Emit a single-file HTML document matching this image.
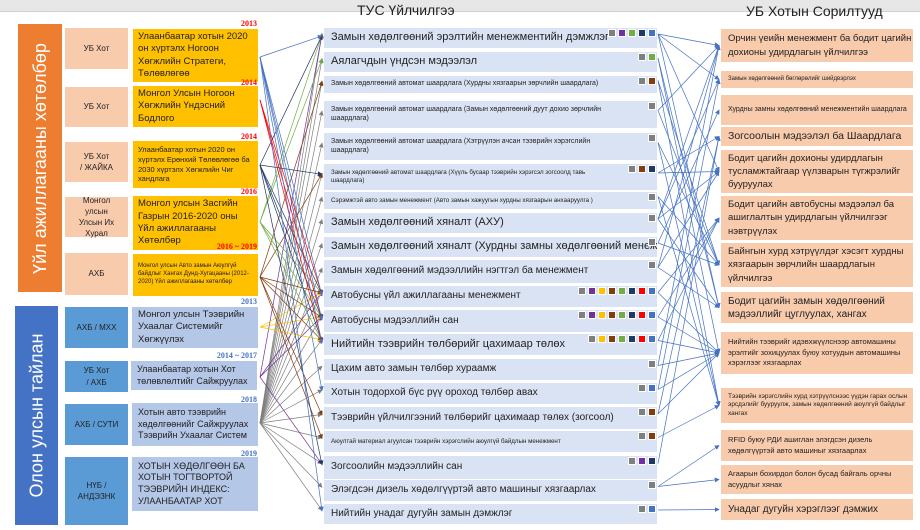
<!DOCTYPE html>
<html><head><meta charset="utf-8"><style>
*{margin:0;padding:0;box-sizing:border-box}
body{width:920px;height:530px;background:#fff;position:relative;overflow:hidden;font-family:"Liberation Sans","DejaVu Sans",sans-serif;color:#222}
.a{position:absolute}
.bar{position:absolute;top:0;left:0;width:920px;height:12px;background:#e7e7e7;border-bottom:1px solid #d0d0d0}
.vt{position:absolute;color:#fff;display:flex;align-items:center;justify-content:center}
.vt span{transform:rotate(-90deg);white-space:nowrap;font-size:18px}
.pc{position:absolute;background:#f8cbad;display:flex;align-items:center;justify-content:center;text-align:center;font-size:8px;line-height:1.4}
.bc{position:absolute;background:#5b9bd5;display:flex;align-items:center;justify-content:center;text-align:center;font-size:8px;line-height:1.4}
.yb{position:absolute;background:#ffc000;padding:2px 5px;display:flex;align-items:center;font-size:9.5px;line-height:1.3}
.lb{position:absolute;background:#b4c7e7;padding:2px 6px;display:flex;align-items:center;font-size:9.5px;line-height:1.3}
.yr{position:absolute;font:bold 8px "Liberation Serif",serif;color:#f00;text-align:right}
.br{position:absolute;font:bold 8px "Liberation Serif",serif;color:#4472c4;text-align:right}
.m{position:absolute;left:324px;width:333px;background:#dae3f3;display:flex;align-items:center;padding-left:7px;font-size:11px;line-height:1.25;white-space:nowrap;overflow:hidden}
.m.s{font-size:7px;white-space:normal}
.m.xs{font-size:6.2px;white-space:normal}
.r{position:absolute;left:721px;width:192px;background:#f8cbad;display:flex;align-items:center;padding-left:7px;font-size:9.5px;line-height:1.4}
.sq{position:absolute;width:8px;height:8px;border:0.5px solid #fff}
svg{position:absolute;left:0;top:0}
</style></head><body>
<div class="bar"></div>
<div class="a" style="left:357px;top:2px;font-size:14px">ТУС Үйлчилгээ</div>
<div class="a" style="left:746px;top:3px;font-size:14px">УБ Хотын Сорилтууд</div>

<div class="vt" style="left:18px;top:24px;width:44px;height:268px;background:#ed7d31"><span>Үйл ажиллагааны хөтөлбөр</span></div>
<div class="vt" style="left:15px;top:306px;width:43px;height:219px;background:#4472c4"><span>Олон улсын тайлан</span></div>

<div class="pc" style="left:65px;top:28px;width:63px;height:41px">УБ Хот</div>
<div class="pc" style="left:65px;top:87px;width:63px;height:40px">УБ Хот</div>
<div class="pc" style="left:65px;top:142px;width:63px;height:40px">УБ Хот<br>/ ЖАЙКА</div>
<div class="pc" style="left:65px;top:197px;width:63px;height:40px">Монгол<br>улсын<br>Улсын Их<br>Хурал</div>
<div class="pc" style="left:65px;top:253px;width:63px;height:42px">АХБ</div>

<div class="yb" style="left:133px;top:29px;width:125px;height:53px">Улаанбаатар хотын 2020 он хүртэлх Ногоон Хөгжлийн Стратеги, Төлөвлөгөө</div>
<div class="yb" style="left:133px;top:86px;width:125px;height:41px">Монгол Улсын Ногоон Хөгжлийн Үндэсний Бодлого</div>
<div class="yb" style="left:133px;top:141px;width:125px;height:47px;font-size:7.5px">Улаанбаатар хотын 2020 он хүртэлх Ерөнхий Төлөвлөгөө ба 2030 хүртэлх Хөгжлийн Чиг хандлага</div>
<div class="yb" style="left:133px;top:196px;width:125px;height:54px">Монгол улсын Засгийн Газрын 2016-2020 оны Үйл ажиллагааны Хөтөлбөр</div>
<div class="yb" style="left:133px;top:254px;width:125px;height:42px;font-size:6px">Монгол улсын Авто замын Аюулгүй байдлыг Хангах Дунд-Хугацааны (2012- 2020) Үйл ажиллагааны хөтөлбөр</div>
<div class="yr" style="left:200px;top:19px;width:57px">2013</div>
<div class="yr" style="left:200px;top:78px;width:57px">2014</div>
<div class="yr" style="left:200px;top:132px;width:57px">2014</div>
<div class="yr" style="left:200px;top:187px;width:57px">2016</div>
<div class="yr" style="left:180px;top:242px;width:77px">2016 ~ 2019</div>

<div class="bc" style="left:65px;top:307px;width:63px;height:41px">АХБ / МХХ</div>
<div class="bc" style="left:65px;top:361px;width:63px;height:31px">УБ Хот<br>/ АХБ</div>
<div class="bc" style="left:65px;top:404px;width:63px;height:41px">АХБ / СУТИ</div>
<div class="bc" style="left:65px;top:457px;width:63px;height:68px">НҮБ /<br>АНДЭЗНК</div>
<div class="lb" style="left:132px;top:307px;width:126px;height:41px">Монгол улсын Тээврийн Ухаалаг Системийг Хөгжүүлэх</div>
<div class="lb" style="left:131px;top:361px;width:126px;height:29px;font-size:9px">Улаанбаатар хотын Хот төлөвлөлтийг Сайжруулах</div>
<div class="lb" style="left:132px;top:403px;width:126px;height:43px;font-size:9px">Хотын авто тээврийн хөдөлгөөнийг Сайжруулах Тээврийн Ухаалаг Систем</div>
<div class="lb" style="left:132px;top:457px;width:126px;height:54px;font-size:9px">ХОТЫН ХӨДӨЛГӨӨН БА ХОТЫН ТОГТВОРТОЙ ТЭЭВРИЙН ИНДЕКС: УЛААНБААТАР ХОТ</div>
<div class="br" style="left:200px;top:297px;width:57px">2013</div>
<div class="br" style="left:180px;top:351px;width:77px">2014 ~ 2017</div>
<div class="br" style="left:200px;top:395px;width:57px">2018</div>
<div class="br" style="left:200px;top:449px;width:57px">2019</div>

<div class="m" style="top:28px;height:20px">Замын хөдөлгөөний эрэлтийн менежментийн дэмжлэг</div>
<div class="m" style="top:52px;height:20px">Аялагчдын үндсэн мэдээлэл</div>
<div class="m s" style="top:76px;height:17px">Замын хөдөлгөөний автомат шаардлага (Хурдны хязгаарын зөрчлийн шаардлага)</div>
<div class="m s" style="top:101px;height:27px">Замын хөдөлгөөний автомат шаардлага (Замын хөдөлгөөний дуут дохио зөрчлийн<br>шаардлага)</div>
<div class="m s" style="top:133px;height:27px">Замын хөдөлгөөний автомат шаардлага (Хэтрүүлэн ачсан тээврийн хэрэгслийн<br>шаардлага)</div>
<div class="m xs" style="top:164px;height:26px">Замын хөдөлгөөний автомат шаардлага (Хүүль бусаар тээврийн хэрэгсэл зогсоолд тавь<br>шаардлага)</div>
<div class="m xs" style="top:192px;height:17px">Сэрэмжтэй авто замын менежмент (Авто замын хажуугын хурдны хязгаарын анхааруулга )</div>
<div class="m" style="top:213px;height:20px">Замын хөдөлгөөний хяналт (АХУ)</div>
<div class="m" style="top:237px;height:20px">Замын хөдөлгөөний хяналт (Хурдны замны хөдөлгөөний менежмент)</div>
<div class="m" style="top:260px;height:23px;font-size:10px">Замын хөдөлгөөний мэдээллийн нэгтгэл ба менежмент</div>
<div class="m" style="top:286px;height:21px;font-size:10px">Автобусны үйл ажиллагааны менежмент</div>
<div class="m" style="top:310px;height:22px;font-size:10px">Автобусны мэдээллийн сан</div>
<div class="m" style="top:334px;height:21px">Нийтийн тээврийн төлбөрийг цахимаар төлөх</div>
<div class="m" style="top:359px;height:21px;font-size:10px">Цахим авто замын төлбөр хураамж</div>
<div class="m" style="top:383px;height:21px;font-size:10px">Хотын тодорхой бүс рүү ороход төлбөр авах</div>
<div class="m" style="top:407px;height:22px;font-size:10px">Тээврийн үйлчилгээний төлбөрийг цахимаар төлөх (зогсоол)</div>
<div class="m xs" style="top:431px;height:21px">Аюултай материал агуулсан тээврийн хэрэгслийн аюулгүй байдлын менежмент</div>
<div class="m" style="top:456px;height:23px;font-size:10px">Зогсоолийн мэдээллийн сан</div>
<div class="m" style="top:480px;height:21px;font-size:10px">Элэгдсэн дизель хөдөлгүүртэй авто машиныг хязгаарлах</div>
<div class="m" style="top:504px;height:20px;font-size:10px">Нийтийн унадаг дугуйн замын дэмжлэг</div>

<div class="r" style="top:29px;height:33px">Орчин үеийн менежмент ба бодит цагийн дохионы удирдлагын үйлчилгээ</div>
<div class="r" style="top:71px;height:17px;font-size:6px">Замын хөдөлгөөний бөглөрөлийг шийдвэрлэх</div>
<div class="r" style="top:95px;height:30px;font-size:7px;line-height:1.3">Хурдны замны хөдөлгөөний менежментийн шаардлага</div>
<div class="r" style="top:127px;height:19px;font-size:10.5px">Зогсоолын мэдээлэл ба Шаардлага</div>
<div class="r" style="top:150px;height:43px">Бодит цагийн дохионы удирдлагын тусламжтайгаар үүлзварын түгжрэлийг бууруулах</div>
<div class="r" style="top:196px;height:44px">Бодит цагийн автобусны мэдээлэл ба ашиглалтын удирдлагын үйлчилгээг нэвтрүүлэх</div>
<div class="r" style="top:243px;height:44px">Байнгын хурд хэтрүүлдэг хэсэгт хурдны хязгаарын зөрчлийн шаардлагын үйлчилгээ</div>
<div class="r" style="top:292px;height:31px;font-size:10px;line-height:1.3">Бодит цагийн замын хөдөлгөөний мэдээллийг цуглуулах, хангах</div>
<div class="r" style="top:332px;height:42px;font-size:7.5px">Нийтийн тээврийг идэвхжүүлснээр автомашины эрэлтийг зохицуулах буюу хотуудын автомашины хэрэглээг хязгаарлах</div>
<div class="r" style="top:388px;height:35px;font-size:6.5px;line-height:1.3">Тээврийн хэрэгслийн хурд хэтрүүлснээс үүдэн гарах ослын эрсдэлийг бууруулж, замын хөдөлгөөний аюулгүй байдлыг хангах</div>
<div class="r" style="top:430px;height:31px;font-size:7.5px">RFID буюу РДИ ашиглан элэгдсэн дизель хөдөлгүүртэй авто машиныг хязгаарлах</div>
<div class="r" style="top:465px;height:29px;font-size:7.5px">Агаарын бохирдол болон бусад байгаль орчны асуудлыг хянах</div>
<div class="r" style="top:499px;height:21px;font-size:10px">Унадаг дугуйн хэрэглээг дэмжих</div>

<div id="sqs"></div>
<svg id="ln" width="920" height="530"></svg>
<script>
var C={g:'#7f7f7f',p:'#7030a0',y:'#ffc000',b:'#843c0c',gr:'#70ad47',n:'#203864',r:'#ff0000',bl:'#4472c4'};
var SRC={bl:57,r:100,n:165,gr:222,b:277,y:327,p:377,g:423};
var rows=[[28,48],[52,72],[76,93],[101,128],[133,160],[164,190],[192,209],[213,233],[237,257],[260,283],[286,307],[310,332],[334,355],[359,380],[383,404],[407,429],[431,452],[456,479],[480,501],[504,524]];
var all8=['g','p','y','b','gr','n','r','bl'];
var sq=[['g','p','gr','n','bl'],['g','gr'],['g','b'],['g'],['g'],['g','b','n'],['g'],['g'],['g'],['g'],all8,all8,['g','y','b','gr','n','r','bl'],['g'],['g','bl'],['g','b'],['g','b'],['g','p','n'],['g'],['g','bl']];
var h='',s='';
var defs='<defs>';
for(var k in C){defs+='<marker id="m'+k+'" markerWidth="7" markerHeight="7" refX="6" refY="3.5" orient="auto"><path d="M0,0L7,3.5L0,7z" fill="'+C[k]+'"/></marker>';}
defs+='<marker id="mR" markerWidth="7" markerHeight="7" refX="6" refY="3.5" orient="auto"><path d="M0,0L7,3.5L0,7z" fill="#4472c4"/></marker></defs>';
s+=defs;
sq.forEach(function(list,i){
 var top=rows[i][0]+1;var n=list.length;
 list.forEach(function(c,j){
  var x=648-(n-1-j)*10;
  h+='<div class="sq" style="left:'+x+'px;top:'+top+'px;background:'+C[c]+'"></div>';
  var ty=(rows[i][0]+rows[i][1])/2-3+ (j-n/2)*0.6;
  s+='<line x1="260" y1="'+SRC[c]+'" x2="322" y2="'+ty+'" stroke="'+C[c]+'" stroke-width="0.7" marker-end="url(#m'+c+')"/>';
 });
});
document.getElementById('sqs').innerHTML=h;
var R=[[29,62],[71,88],[95,125],[127,146],[150,193],[196,240],[243,287],[292,323],[332,374],[388,423],[430,461],[465,494],[499,520]];
var pairs=[[0,0],[0,1],[0,4],[0,7],[1,7],[2,6],[2,9],[3,6],[4,6],[4,9],[5,3],[6,6],[7,0],[7,1],[7,4],[7,7],[8,2],[8,6],[9,0],[9,7],[10,5],[10,8],[11,5],[11,8],[12,8],[12,5],[13,8],[14,8],[14,1],[15,3],[17,3],[18,10],[18,11],[19,12],[1,8],[3,0],[5,4],[9,4],[13,0],[16,9],[15,8],[6,9]];
pairs.forEach(function(p){
 var y1=(rows[p[0]][0]+rows[p[0]][1])/2-4, y2=(R[p[1]][0]+R[p[1]][1])/2;
 s+='<line x1="658" y1="'+y1+'" x2="719" y2="'+y2+'" stroke="#4472c4" stroke-width="0.7" marker-end="url(#mR)"/>';
});
document.getElementById('ln').innerHTML=s;
</script>
</body></html>
